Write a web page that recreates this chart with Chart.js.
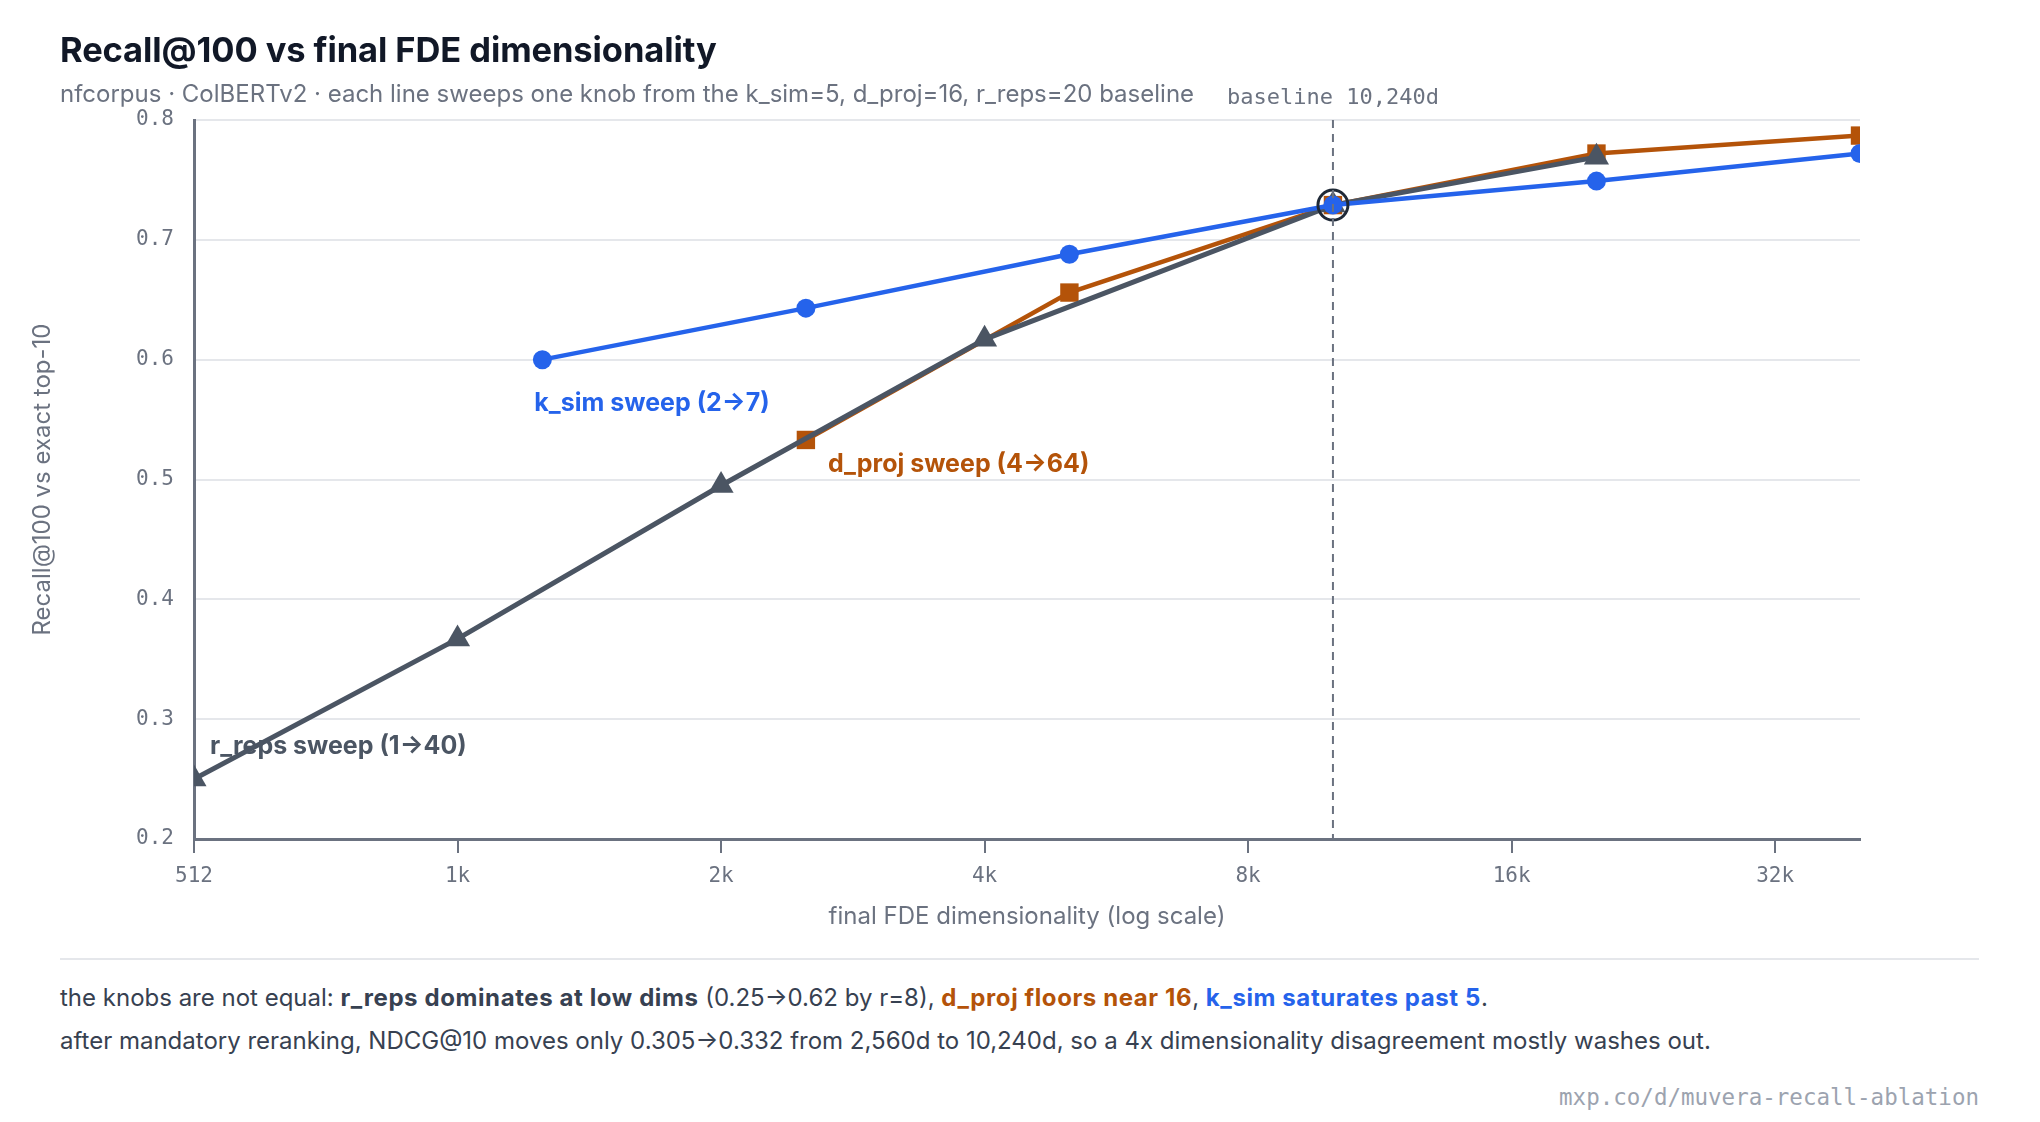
<!DOCTYPE html>
<html>
<head>
<meta charset="utf-8">
<script src="https://cdn.jsdelivr.net/npm/chart.js@4/dist/chart.umd.min.js"></script>
<style>
  body { margin: 0; background: #fff; font-family: Inter, "Noto Sans", sans-serif; }
  #page { position: relative; width: 2040px; height: 1122px; overflow: hidden; }
  #title { position: absolute; left: 60px; top: 30px; font-size: 34.5px; line-height: 40px; font-weight: 700; color: #111827; letter-spacing: -0.1px; }
  #subtitle { position: absolute; left: 60px; top: 80px; font-size: 24px; line-height: 28px; color: #6b7280; }
  #wrap { position: absolute; left: 0; top: 0; width: 2040px; height: 960px; }
  #rule { position: absolute; left: 60px; top: 958px; width: 1919px; height: 2px; background: #e5e7eb; }
  .note { position: absolute; left: 60px; font-size: 24px; line-height: 30px; color: #374151; white-space: nowrap; }
  .note b { font-weight: 700; letter-spacing: 0.6px; }
  #foot { position: absolute; right: 61px; top: 1084px; font-family: "DejaVu Sans Mono", monospace; font-size: 22.5px; line-height: 26px; color: #9ca3af; }
</style>
</head>
<body>
<div id="page">
  <div id="wrap"><canvas id="chart"></canvas></div>
  <div id="title">Recall@100 vs final FDE dimensionality</div>
  <div id="subtitle">nfcorpus · ColBERTv2 · each line sweeps one knob from the k_sim=5, d_proj=16, r_reps=20 baseline</div>
  <div id="rule"></div>
  <div class="note" style="top:983px">the knobs are not equal: <b style="color:#374151">r_reps dominates at low dims</b> (0.25→0.62 by r=8), <b style="color:#b45309">d_proj floors near 16</b>, <b style="color:#2563eb">k_sim saturates past 5</b>.</div>
  <div class="note" style="top:1026px">after mandatory reranking, NDCG@10 moves only 0.305→0.332 from 2,560d to 10,240d, so a 4x dimensionality disagreement mostly washes out.</div>
  <div id="foot">mxp.co/d/muvera-recall-ablation</div>
</div>
<script>
// data
var kSimDims = [1280, 2560, 5120, 10240, 20480, 40960];
var kSimRecall = [0.600, 0.643, 0.688, 0.729, 0.749, 0.772];

var dProjDims = [2560, 5120, 10240, 20480, 40960];
var dProjRecall = [0.533, 0.656, 0.729, 0.772, 0.787];

var rRepsDims = [512, 1024, 2048, 4096, 10240, 20480];
var rRepsRecall = [0.250, 0.367, 0.495, 0.617, 0.729, 0.769];

var baselineDim = 10240;
var baselineRecall = 0.729;

var xTicks = [512, 1024, 2048, 4096, 8192, 16384, 32768];
var yTicks = [0.2, 0.3, 0.4, 0.5, 0.6, 0.7, 0.8];

var seriesLabels = ['k_sim sweep (2→7)', 'd_proj sweep (4→64)', 'r_reps sweep (1→40)'];

var colors = { blue: '#2563eb', orange: '#b45309', grey: '#4b5563', axis: '#6b7280', grid: '#e5e7eb' };
var mono = '"DejaVu Sans Mono", monospace';

function pts(xs, ys) {
    var out = [];
    for (var i = 0; i < xs.length; i++) out.push({ x: xs[i], y: ys[i] });
    return out;
}

// dashed baseline marker + its label, and the inline series labels
var overlay = {
    id: 'overlay',
    afterDatasetsDraw: function (chart) {
        var ctx = chart.ctx, xs = chart.scales.x, ys = chart.scales.y, area = chart.chartArea;
        var bx = xs.getPixelForValue(baselineDim);
        ctx.save();
        ctx.strokeStyle = colors.axis;
        ctx.lineWidth = 2;
        ctx.setLineDash([8, 6]);
        ctx.beginPath();
        ctx.moveTo(bx, area.top);
        ctx.lineTo(bx, area.bottom);
        ctx.stroke();
        ctx.setLineDash([]);
        ctx.fillStyle = colors.axis;
        ctx.font = '22px ' + mono;
        ctx.textAlign = 'center';
        ctx.textBaseline = 'middle';
        ctx.fillText('baseline 10,240d', bx, 98);

        ctx.font = 'bold 25px Inter';
        ctx.textAlign = 'left';
        ctx.fillStyle = colors.blue;
        ctx.fillText(seriesLabels[0], xs.getPixelForValue(kSimDims[0]) - 8, ys.getPixelForValue(kSimRecall[0]) + 44);
        ctx.fillStyle = colors.orange;
        ctx.fillText(seriesLabels[1], xs.getPixelForValue(dProjDims[0]) + 22, ys.getPixelForValue(dProjRecall[0]) + 25);
        ctx.fillStyle = colors.grey;
        ctx.fillText(seriesLabels[2], xs.getPixelForValue(rRepsDims[0]) + 16, ys.getPixelForValue(rRepsRecall[0]) - 33);
        ctx.restore();
    }
};

var ctx = document.getElementById('chart').getContext('2d');
new Chart(ctx, {
    type: 'line',
    data: {
        datasets: [
            {
                label: 'baseline',
                data: pts([baselineDim], [baselineRecall]),
                showLine: false,
                pointStyle: 'circle',
                pointRadius: 15,
                pointBorderWidth: 3,
                pointBorderColor: '#1f2937',
                pointBackgroundColor: 'rgba(0,0,0,0)'
            },
            {
                label: 'k_sim',
                data: pts(kSimDims, kSimRecall),
                borderColor: colors.blue,
                backgroundColor: colors.blue,
                borderWidth: 4.5,
                pointStyle: 'circle',
                pointRadius: 9.5,
                pointBorderWidth: 0
            },
            {
                label: 'r_reps',
                data: pts(rRepsDims, rRepsRecall),
                borderColor: colors.grey,
                backgroundColor: colors.grey,
                borderWidth: 5,
                pointStyle: 'triangle',
                pointRadius: 14.5,
                pointBorderWidth: 0
            },
            {
                label: 'd_proj',
                data: pts(dProjDims, dProjRecall),
                borderColor: colors.orange,
                backgroundColor: colors.orange,
                borderWidth: 4.5,
                pointStyle: 'rect',
                pointRadius: 13,
                pointBorderWidth: 0
            }
        ]
    },
    options: {
        responsive: true,
        maintainAspectRatio: false,
        animation: false,
        layout: { padding: { left: 20, right: 180, top: 120, bottom: 0 } },
        plugins: { legend: { display: false }, tooltip: { enabled: false } },
        scales: {
            x: {
                type: 'logarithmic',
                min: 512,
                max: 40960,
                afterBuildTicks: function (scale) {
                    scale.ticks = xTicks.map(function (v) { return { value: v }; });
                },
                afterFit: function (scale) { scale.height = 121; },
                ticks: {
                    autoSkip: false,
                    maxRotation: 0,
                    padding: 11,
                    color: colors.axis,
                    font: { family: mono, size: 21 },
                    callback: function (v) { return v < 1024 ? String(v) : (v / 1024) + 'k'; }
                },
                grid: { drawOnChartArea: false, drawTicks: true, tickLength: 14, color: colors.axis, lineWidth: 2 },
                border: { color: colors.axis, width: 3 },
                title: { display: true, text: 'final FDE dimensionality (log scale)', color: colors.axis, font: { family: 'Inter', size: 24 }, padding: { top: 0, bottom: 29 } }
            },
            y: {
                min: 0.2,
                max: 0.8,
                afterBuildTicks: function (scale) {
                    scale.ticks = yTicks.map(function (v) { return { value: v }; });
                },
                afterFit: function (scale) { scale.width = 174; },
                ticks: {
                    padding: 20,
                    color: colors.axis,
                    font: { family: mono, size: 21 },
                    callback: function (v) { return v.toFixed(1); }
                },
                grid: { drawTicks: false, color: colors.grid, lineWidth: 2 },
                border: { color: colors.axis, width: 3 },
                title: { display: true, text: 'Recall@100 vs exact top-10', color: colors.axis, font: { family: 'Inter', size: 24 }, padding: { top: 8, bottom: 0 } }
            }
        }
    },
    plugins: [overlay]
});
</script>
</body>
</html>
